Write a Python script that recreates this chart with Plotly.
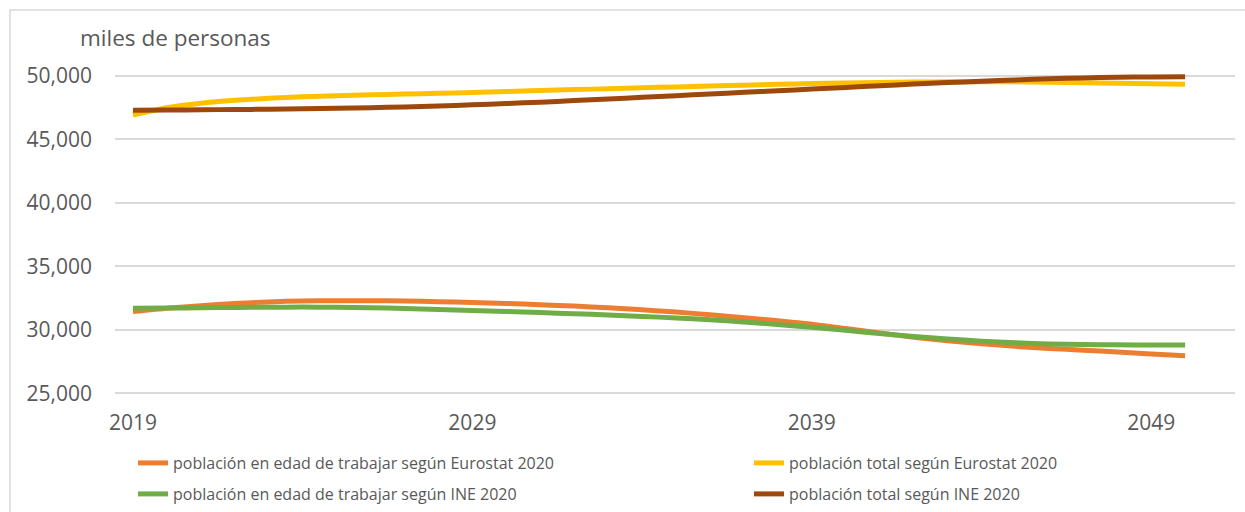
import plotly.graph_objects as go

years = list(range(2019, 2051))

eurostat_wa = [31440, 31700, 31900, 32080, 32200, 32280, 32300, 32300, 32270, 32220,
               32150, 32080, 31980, 31870, 31740, 31580, 31400, 31190, 30960, 30710,
               30450, 30100, 29750, 29420, 29130, 28900, 28700, 28530, 28400, 28260,
               28100, 27950]
ine_wa = [31710, 31720, 31740, 31760, 31780, 31790, 31780, 31740, 31680, 31610,
          31530, 31450, 31360, 31270, 31170, 31060, 30940, 30790, 30620, 30420,
          30200, 29960, 29710, 29480, 29280, 29110, 28980, 28890, 28840, 28820,
          28810, 28810]
eurostat_total = [46930, 47500, 47850, 48080, 48240, 48360, 48450, 48520, 48580, 48640,
                  48700, 48780, 48860, 48930, 49000, 49070, 49140, 49210, 49280, 49340,
                  49400, 49450, 49490, 49520, 49540, 49550, 49540, 49510, 49470, 49430,
                  49390, 49350]
ine_total = [47300, 47320, 47340, 47360, 47380, 47410, 47450, 47500, 47560, 47640,
             47730, 47830, 47940, 48060, 48190, 48320, 48450, 48580, 48710, 48840,
             48970, 49100, 49230, 49360, 49480, 49590, 49690, 49780, 49850, 49900,
             49930, 49950]

names = ["población en edad de trabajar según Eurostat 2020",
         "población total según Eurostat 2020",
         "población en edad de trabajar según INE 2020",
         "población total según INE 2020"]
series = [eurostat_wa, eurostat_total, ine_wa, ine_total]
colors = ["#ED7D31", "#FFC000", "#70AD47", "#9E480E"]
legend_ids = ["legend", "legend2", "legend3", "legend4"]

x_ticks = [2019, 2029, 2039, 2049]
y_ticks = [25000, 30000, 35000, 40000, 45000, 50000]
y_labels = ["25,000", "30,000", "35,000", "40,000", "45,000", "50,000"]

fig = go.Figure()
for name, vals, col, lg in zip(names, series, colors, legend_ids):
    fig.add_trace(go.Scatter(x=years, y=vals, name=name, mode="lines", showlegend=True,
                             line=dict(color=col, width=5, shape="spline", smoothing=0.6),
                             legend=lg))

W, H = 1245, 512
L, R, T, B = 115, 10, 60, 112
pw, ph = W - L - R, H - T - B


def leg(px, py):
    return dict(xref="container", yref="container", x=px / W, y=1 - py / H,
                xanchor="left", yanchor="middle", orientation="h", visible=True,
                font=dict(family="Open Sans", size=16, color="#595959"),
                bgcolor="rgba(0,0,0,0)", borderwidth=0)


fig.update_layout(
    width=W, height=H,
    showlegend=True,
    margin=dict(l=L, r=R, t=T, b=B, autoexpand=False),
    plot_bgcolor="white", paper_bgcolor="white",
    font=dict(family="Open Sans", color="#595959"),
    title=dict(text="miles de personas", x=80 / W, xref="container", xanchor="left",
               y=1 - 38 / H, yref="container", yanchor="middle",
               font=dict(family="Open Sans", size=22.5, color="#595959")),
    xaxis=dict(range=[2018.47, 2051.47], tickvals=x_ticks, ticktext=[str(v) for v in x_ticks],
               showgrid=False, zeroline=False, showline=False,
               tickfont=dict(family="Open Sans", size=21, color="#595959"),
               ticklabelstandoff=8),
    yaxis=dict(range=[24472, 51260], tickvals=y_ticks, ticktext=y_labels,
               showgrid=True, gridcolor="#D9D9D9", gridwidth=1.6, zeroline=False, showline=False,
               tickfont=dict(family="Open Sans", size=21, color="#595959"),
               ticklabelstandoff=22),
    legend=leg(133, 463),
    legend2=leg(749, 463),
    legend3=leg(133, 494),
    legend4=leg(749, 494),
    shapes=[dict(type="rect", xref="paper", yref="paper",
                 x0=(10 - L) / pw, x1=2, y0=-2, y1=(T + ph - 10) / ph,
                 line=dict(color="#D9D9D9", width=1.5), fillcolor="rgba(0,0,0,0)", layer="below")],
)

fig.write_html("out.html")
